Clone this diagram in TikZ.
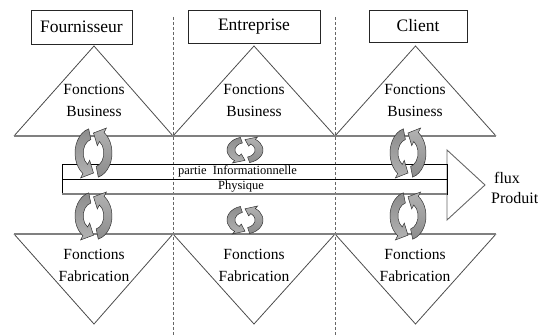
\documentclass[tikz,border=0pt]{standalone}
\usepackage{fontspec}
\setmainfont{Liberation Serif}
\tikzset{
  actor/.style={draw=black!85, line width=0.9pt, inner sep=0pt, font=\fontsize{17.5}{20}\selectfont},
  func/.style={align=center, inner sep=0pt, font=\fontsize{15.5}{22}\selectfont},
  bandtext/.style={inner sep=0pt, font=\fontsize{12.5}{14}\selectfont},
  tri/.style={draw=black!70, line width=0.8pt},
  groundline/.style={draw=black!50, line width=1.8pt},
  border/.style={dashed, draw=black!60, line width=0.7pt, dash pattern=on 3pt off 2pt},
  cycarrow/.style={draw=black!80, line width=0.5pt},
}
% two turning arrows: centre x, centre y, x radius, y radius
\newcommand{\cyclearrows}[4]{%
  \begin{scope}[shift={(#1,#2)}, xscale=#3, yscale=#4]
    \draw[cycarrow, top color=gray!90, middle color=gray!15, bottom color=gray!60]
      (105:1) arc[start angle=105, end angle=235, radius=1] -- (235:1.22) -- (270:0.8)
      -- (235:0.36) -- (235:0.56) arc[start angle=235, end angle=105, radius=0.56] -- cycle;
    \draw[cycarrow, top color=gray!60, middle color=gray!15, bottom color=gray!90]
      (285:1) arc[start angle=285, end angle=415, radius=1] -- (55:1.22) -- (90:0.8)
      -- (55:0.36) -- (55:0.56) arc[start angle=415, end angle=285, radius=0.56] -- cycle;
  \end{scope}}
\begin{document}
\begin{tikzpicture}[x=1pt, y=1pt]
\useasboundingbox (0,0) rectangle (538,336);
% borders between the three actors
\draw[border] (173,319)--(173,0);
\draw[border] (335,319)--(335,0);
% actors
\node[actor, minimum width=101, minimum height=34] (fourn) at (81.5,309) {Fournisseur};
\node[actor, minimum width=132, minimum height=33] (entr) at (254,309.5) {Entreprise};
\node[actor, minimum width=98, minimum height=32] (client) at (418,310) {Client};
% business triangles
\draw[tri] (14,200)--(94,290)--(173,200);
\draw[tri] (173,200)--(254,290)--(335,200);
\draw[tri] (335,200)--(415.5,290)--(496,200);
\draw[groundline] (14,200)--(496,200);
% production triangles
\draw[tri] (14,102)--(94,12)--(173,102);
\draw[tri] (173,102)--(254,12)--(335,102);
\draw[tri] (335,102)--(415.5,12)--(496,102);
\draw[groundline] (14,102)--(496,102);
\node[func] (busF) at (94,236) {Fonctions\\Business};
\node[func] (busE) at (254,236) {Fonctions\\Business};
\node[func] (busC) at (415,236) {Fonctions\\Business};
\node[func] (fabF) at (94,70.5) {Fonctions\\Fabrication};
\node[func] (fabE) at (254,70.5) {Fonctions\\Fabrication};
\node[func] (fabC) at (415,70.5) {Fonctions\\Fabrication};
% flow band and product arrow
\draw[draw=black!60, line width=0.9pt] (447,186)--(485,151)--(447,116)--cycle;
\draw[line width=0.9pt] (62,172) rectangle (447,142);
\draw[line width=0.9pt] (62,157)--(447,157);
\draw[draw=black!50, line width=1.2pt] (62,142)--(447,142);
\node[bandtext] (info) at (237.5,164.5) {partie\ \ Informationnelle};
\node[bandtext] (phys) at (241,149.5) {Physique};
\node[anchor=west, inner sep=0pt, font=\fontsize{16}{18}\selectfont] (flux) at (494,158) {flux};
\node[anchor=west, inner sep=0pt, font=\fontsize{16}{18}\selectfont] (prod) at (491,138) {Produit};
% exchanges
\cyclearrows{93.5}{183}{18.5}{25}
\cyclearrows{93.5}{120}{18.5}{24}
\cyclearrows{245}{186}{18}{13}
\cyclearrows{245}{116}{18}{14}
\cyclearrows{408}{183}{18}{25}
\cyclearrows{408}{120}{18}{24}
\end{tikzpicture}
\end{document}
